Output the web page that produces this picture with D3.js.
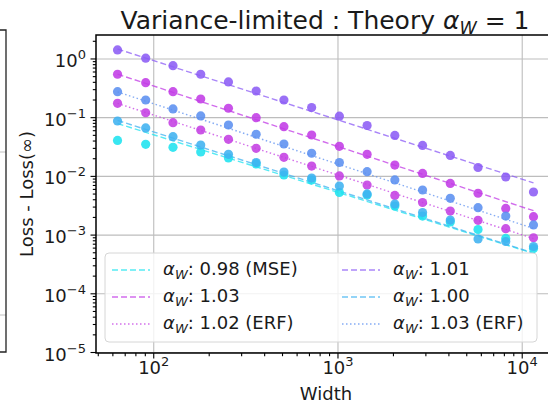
<!DOCTYPE html>
<html>
<head>
<meta charset="utf-8">
<script src="https://cdn.jsdelivr.net/npm/d3@7/dist/d3.min.js"></script>
<style>
body { margin: 0; background: #fff; }
text { font-family: "DejaVu Sans", sans-serif; fill: #1a1a1a; }
</style>
</head>
<body>
<div id="chart"></div>
<script>
// widths used in the sweep
const widths = [64, 91, 128, 181, 256, 362, 512, 724, 1024, 1448, 2048, 2896, 4096, 5793, 8192, 11585]

// loss - loss(inf)
const loss098mse = [0.0401, 0.0345, 0.0307, 0.0255, 0.0202, 0.0160, 0.01035, 0.00851, 0.00521, 0.00473, 0.00307, 0.00207, 0.00164, 0.00122, 0.000859, 0.000579]
const loss103    = [0.538, 0.387, 0.272, 0.204, 0.142, 0.098, 0.0689, 0.0497, 0.0319, 0.0233, 0.0153, 0.0110, 0.00743, 0.00506, 0.00279, 0.00202]
const loss102erf = [0.172, 0.119, 0.0805, 0.0605, 0.0420, 0.0295, 0.0207, 0.0147, 0.0100, 0.0070, 0.00464, 0.00352, 0.00252, 0.00175, 0.00126, 0.000883]
const loss101    = [1.40, 1.01, 0.754, 0.538, 0.398, 0.279, 0.196, 0.146, 0.104, 0.0722, 0.0488, 0.0330, 0.0223, 0.0139, 0.00957, 0.00532]
const loss100    = [0.0861, 0.0655, 0.0465, 0.0336, 0.0233, 0.0169, 0.0116, 0.00921, 0.00673, 0.00492, 0.00332, 0.00238, 0.00177, 0.000841, 0.000763, 0.000627]
const loss103erf = [0.272, 0.196, 0.138, 0.105, 0.0736, 0.0512, 0.0349, 0.0243, 0.0169, 0.0118, 0.00852, 0.00575, 0.00415, 0.00287, 0.00207, 0.00146]

// legend order (column-major, like matplotlib)
const seriesLabels = ["0.98 (MSE)", "1.03", "1.02 (ERF)", "1.01", "1.00", "1.03 (ERF)"]
const seriesLoss = [loss098mse, loss103, loss102erf, loss101, loss100, loss103erf]
// power-law fits: exponent and value of the fit at the first width
const fitAlpha = [0.98, 1.03, 1.02, 1.01, 1.00, 1.03]
const fitAtFirst = [0.078, 0.54, 0.172, 1.45, 0.088, 0.27]

const xMajor = [100, 1000, 10000]
const yMajor = [1, 0.1, 0.01, 0.001, 0.0001, 0.00001]

// styles
const colors = ["#1ee3ef", "#c23be6", "#c43fe3", "#8c5cf5", "#3fb2f0", "#5b8ff0"]
const dashes = ["6,3", "6,3", "1.5,2.5", "6,3", "6,3", "1.5,2.5"]

const W = 548, H = 404
const plot = {left: 96, top: 35, right: 554, bottom: 353}

let svg = d3.select("#chart")
            .append("svg")
            .attr("width", W)
            .attr("height", H)

svg.append("rect").attr("width", W).attr("height", H).attr("fill", "#fff")

// piece of the neighbouring panel on the left
svg.append("line").attr("x1", 0).attr("x2", 6).attr("y1", 152).attr("y2", 152)
   .attr("stroke", "#c0c0c0").attr("stroke-width", 1)
svg.append("line").attr("x1", 0).attr("x2", 6).attr("y1", 315).attr("y2", 315)
   .attr("stroke", "#c0c0c0").attr("stroke-width", 1)
svg.append("path").attr("d", "M0,30H6V352H0")
   .attr("fill", "none").attr("stroke", "#222").attr("stroke-width", 1.3)

let x = d3.scaleLog()
          .domain([48.9, 14970])
          .range([plot.left, plot.right])
let y = d3.scaleLog()
          .domain([9.62e-6, 2.51])
          .range([plot.bottom, plot.top])

const pw = plot.right - plot.left, ph = plot.bottom - plot.top

svg.append("clipPath").attr("id", "clip")
   .append("rect").attr("x", plot.left).attr("y", plot.top)
   .attr("width", pw).attr("height", ph)

// grid
let gx = svg.append("g")
            .attr("transform", "translate(0," + plot.bottom + ")")
            .call(d3.axisBottom(x).tickValues(xMajor).tickSize(-ph).tickFormat(""))
let gy = svg.append("g")
            .attr("transform", "translate(" + plot.left + ",0)")
            .call(d3.axisLeft(y).tickValues(yMajor).tickSize(-pw).tickFormat(""))
svg.selectAll(".domain").remove()
gx.selectAll("line").attr("stroke", "#bdbdbd").attr("stroke-width", 1.1)
gy.selectAll("line").attr("stroke", "#bdbdbd").attr("stroke-width", 1.1)

// minor tick values
let xMinor = [], yMinor = []
for (let e = 1; e <= 4; e++)
    for (let m = 2; m <= 9; m++) {
        let v = m * Math.pow(10, e)
        if (v > x.domain()[0] && v < x.domain()[1]) xMinor.push(v)
    }
for (let e = -6; e <= 0; e++)
    for (let m = 2; m <= 9; m++) {
        let v = m * Math.pow(10, e)
        if (v > y.domain()[0] && v < y.domain()[1]) yMinor.push(v)
    }

let chart = svg.append("g").attr("clip-path", "url(#clip)")

// fit lines
let fits = seriesLoss.map(function(s, i) {
    let w0 = widths[0], w1 = widths[widths.length - 1]
    return [[w0, fitAtFirst[i]],
            [w1, fitAtFirst[i] * Math.pow(w1 / w0, -fitAlpha[i])]]
})

chart.selectAll(".fit")
     .data(fits)
     .enter()
     .append("line")
     .attr("class", "fit")
     .attr("x1", function(d) { return x(d[0][0]) })
     .attr("y1", function(d) { return y(d[0][1]) })
     .attr("x2", function(d) { return x(d[1][0]) })
     .attr("y2", function(d) { return y(d[1][1]) })
     .attr("stroke", function(d, i) { return colors[i] })
     .attr("stroke-width", 1.4)
     .attr("stroke-opacity", 0.75)
     .attr("stroke-dasharray", function(d, i) { return dashes[i] })

// points
seriesLoss.forEach(function(s, i) {
    chart.append("g")
         .selectAll("circle")
         .data(s)
         .enter()
         .append("circle")
         .attr("cx", function(d, j) { return x(widths[j]) })
         .attr("cy", function(d) { return y(d) })
         .attr("r", 4.6)
         .attr("fill", colors[i])
         .attr("fill-opacity", 0.88)
})

// spines (right one falls outside the picture)
svg.append("rect")
   .attr("x", plot.left).attr("y", plot.top)
   .attr("width", pw).attr("height", ph)
   .attr("fill", "none").attr("stroke", "#000").attr("stroke-width", 1.5)

// axes ticks
let xAxis = svg.append("g")
               .attr("transform", "translate(0," + plot.bottom + ")")
               .call(d3.axisBottom(x).tickValues(xMajor).tickSizeInner(5.5).tickSizeOuter(0).tickPadding(6))
let xAxisMinor = svg.append("g")
                    .attr("transform", "translate(0," + plot.bottom + ")")
                    .call(d3.axisBottom(x).tickValues(xMinor).tickSizeInner(3.2).tickSizeOuter(0).tickFormat(""))
let yAxis = svg.append("g")
               .attr("transform", "translate(" + plot.left + ",0)")
               .call(d3.axisLeft(y).tickValues(yMajor).tickSizeInner(5.5).tickSizeOuter(0).tickPadding(6))
let yAxisMinor = svg.append("g")
                    .attr("transform", "translate(" + plot.left + ",0)")
                    .call(d3.axisLeft(y).tickValues(yMinor).tickSizeInner(3.2).tickSizeOuter(0).tickFormat(""))
svg.selectAll(".domain").remove()
svg.selectAll(".tick line").filter(function() { return d3.select(this).attr("stroke") === "currentColor" })
   .attr("stroke", "#000").attr("stroke-width", 1.1)

function powLabel(sel) {
    sel.each(function(d) {
        let t = d3.select(this)
        let e = Math.round(Math.log10(d))
        t.text("10")
        t.append("tspan")
         .attr("dy", -8)
         .attr("font-size", 13)
         .text(e < 0 ? "\u2212" + (-e) : String(e))
    })
}

xAxis.selectAll("text")
     .attr("font-size", 18).attr("font-family", "DejaVu Sans")
     .attr("fill", "#1a1a1a")
     .attr("dy", null).attr("y", 21)
     .call(powLabel)
yAxis.selectAll("text")
     .attr("font-size", 18).attr("font-family", "DejaVu Sans")
     .attr("fill", "#1a1a1a")
     .attr("dy", null).attr("y", 8).attr("x", -10)
     .call(powLabel)

// title and axis labels
let title = svg.append("text")
               .attr("x", (plot.left + plot.right) / 2)
               .attr("y", 29)
               .attr("text-anchor", "middle")
               .attr("font-size", 25)
title.append("tspan").text("Variance-limited : Theory ")
title.append("tspan").attr("font-style", "italic").text("\u03b1")
title.append("tspan").attr("font-style", "italic").attr("font-size", 17.5).attr("dy", 5).text("W")
title.append("tspan").attr("dy", -5).text(" = 1")

svg.append("text")
   .attr("x", (plot.left + plot.right) / 2 + 1)
   .attr("y", 400)
   .attr("text-anchor", "middle")
   .attr("font-size", 18)
   .text("Width")

svg.append("text")
   .attr("transform", "translate(33," + ((plot.top + plot.bottom) / 2) + ") rotate(-90)")
   .attr("text-anchor", "middle")
   .attr("font-size", 18)
   .text("Loss - Loss(\u221e)")

// legend
let legend = svg.append("g")
legend.append("rect")
      .attr("x", 105).attr("y", 253)
      .attr("width", 432).attr("height", 89)
      .attr("rx", 4)
      .attr("fill", "#fff").attr("fill-opacity", 0.8)
      .attr("stroke", "#d6d6d6").attr("stroke-width", 1)

seriesLabels.forEach(function(lab, i) {
    let col = Math.floor(i / 3), row = i % 3
    let lx = col === 0 ? 112 : 342
    let ly = 270 + row * 27
    legend.append("line")
          .attr("x1", lx).attr("x2", lx + 38)
          .attr("y1", ly).attr("y2", ly)
          .attr("stroke", colors[i])
          .attr("stroke-width", 1.4)
          .attr("stroke-opacity", 0.75)
          .attr("stroke-dasharray", dashes[i])
    let t = legend.append("text")
                  .attr("x", lx + 51)
                  .attr("y", ly + 5)
                  .attr("font-size", 18)
    t.append("tspan").attr("font-style", "italic").text("\u03b1")
    t.append("tspan").attr("font-style", "italic").attr("font-size", 13).attr("dy", 4).text("W")
    t.append("tspan").attr("dy", -4).text(": " + lab)
})
</script>
</body>
</html>
